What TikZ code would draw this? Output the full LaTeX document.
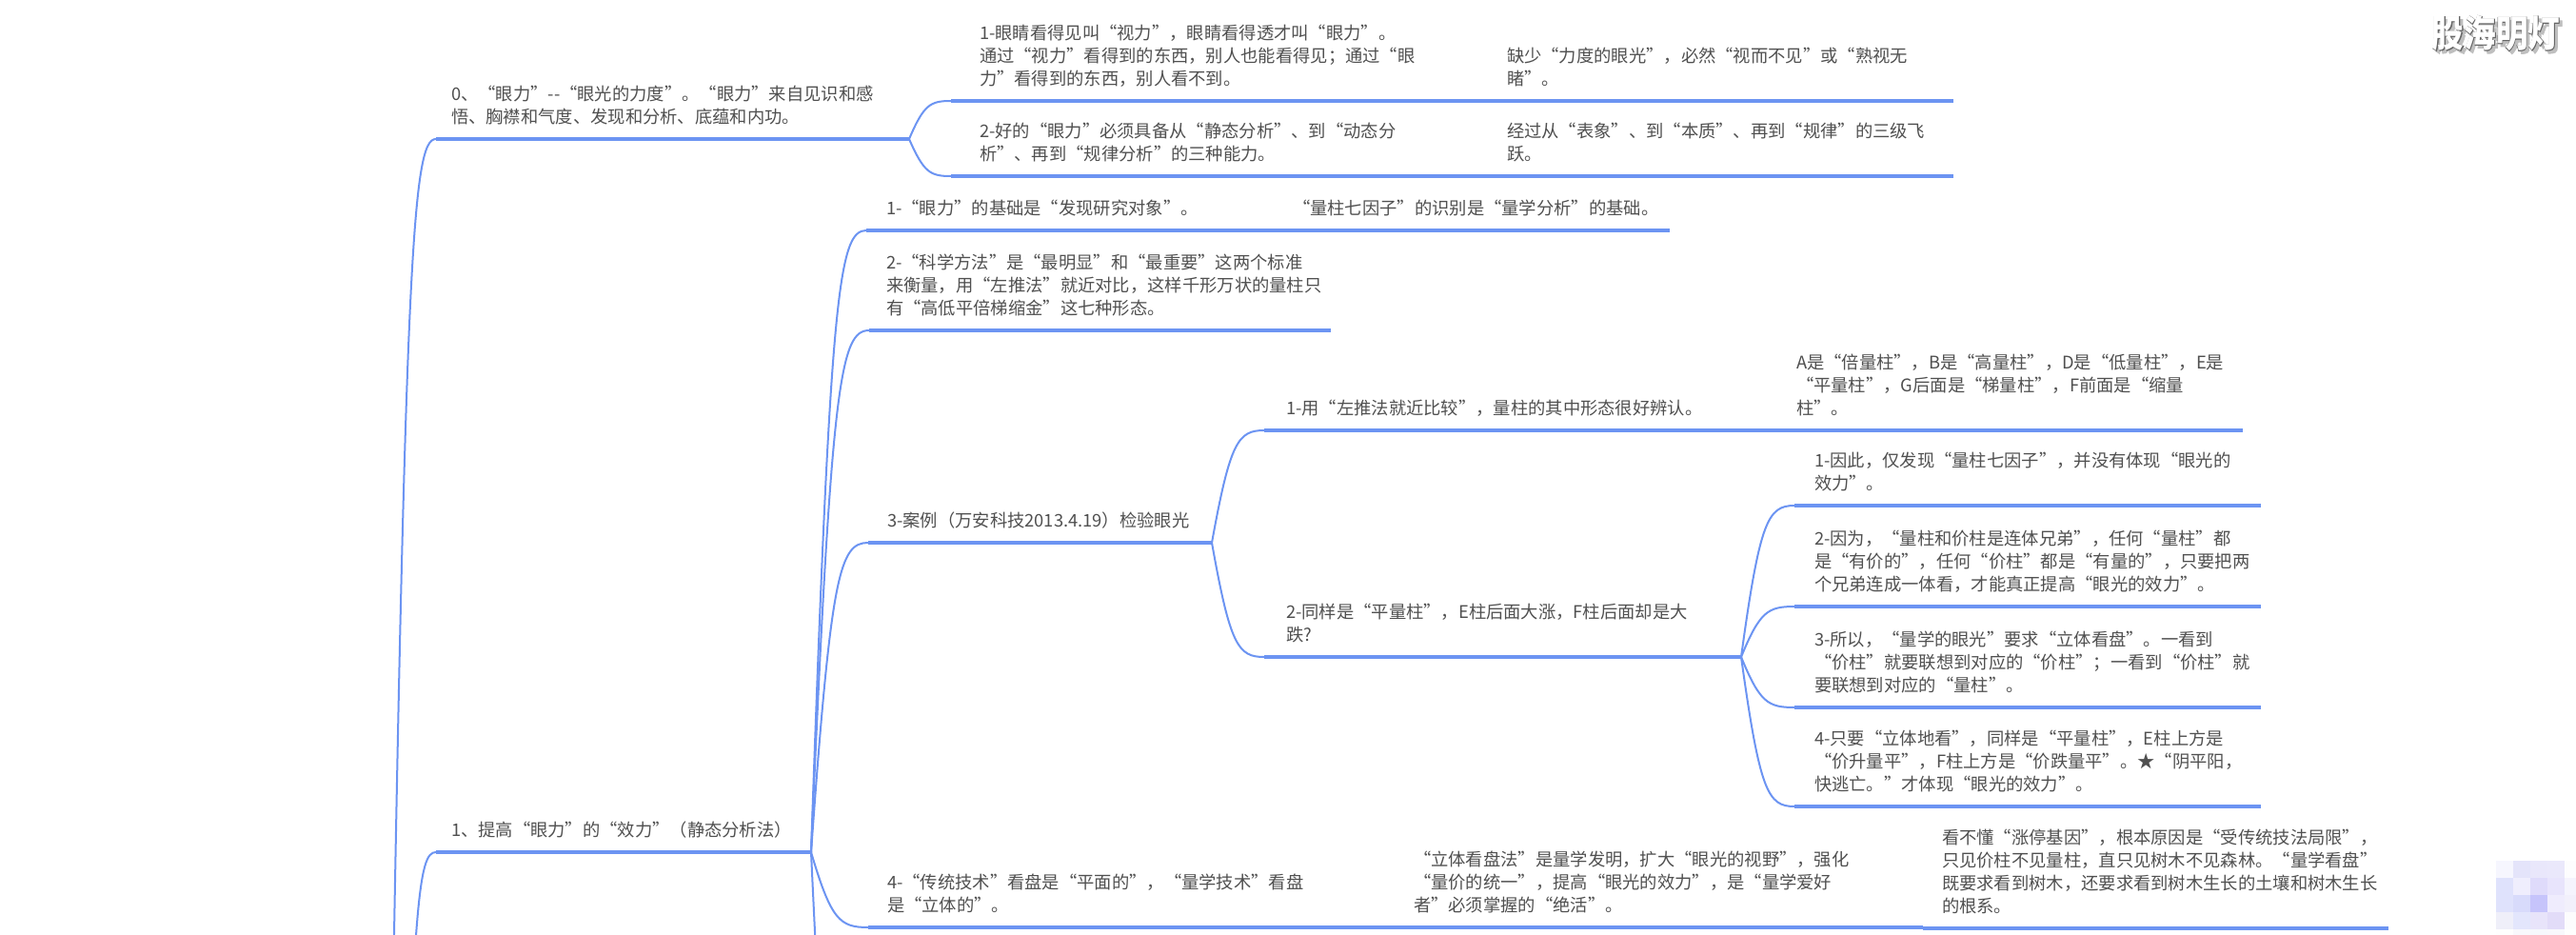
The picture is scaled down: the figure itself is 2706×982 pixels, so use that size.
\documentclass[tikz,border=0pt]{standalone}
\usepackage{fontspec}
\setmainfont{Noto Sans CJK SC}
\newfontfamily\markfont[BoldFeatures={FakeBold=2.5}]{Noto Sans CJK SC}
\usetikzlibrary{matrix,calc,positioning}
\definecolor{mapblue}{HTML}{6C94F2}
\definecolor{maptext}{HTML}{505050}

\begin{document}
\begin{tikzpicture}[x=1pt,y=-1pt,
  rule/.style={draw=mapblue, line width=3.5pt},
  limb/.style={draw=mapblue, line width=2pt, to path={let \p1=(\tikztostart), \p2=(\tikztotarget) in
    .. controls ({\x1+.35*(\x2-\x1)},{\y1+.9*(\y2-\y1)}) and ({\x1+.5*(\x2-\x1)},\y2) .. (\tikztotarget)}},
  topic/.style={anchor=south west, text width=#1, align=left, text=maptext, outer sep=0pt, inner ysep=9.3pt,
    font=\fontsize{18.3}{24}\selectfont, execute at end node=\strut,
    append after command={(\tikzlastnode.south west) edge[rule] (\tikzlastnode.south east)}},
  pixels/.style={matrix of nodes, anchor=north west, nodes in empty cells, column sep=0pt, row sep=0pt, inner sep=0pt,
    nodes={minimum size=18pt, inner sep=0pt, outer sep=0pt}},
  px/.code={\definecolor{pxcolor}{HTML}{#1}\pgfkeysalso{fill=pxcolor}},
]
\path[use as bounding box, fill=white] (0,0) rectangle (2706,982);
\clip (0,0) rectangle (2706,982);

% left side
\coordinate (trunkA) at (407,1400);
\coordinate (trunkB) at (421,1400);
\coordinate (oneMore) at (950,1700);

\node[topic=465, inner xsep=16pt] (zero) at (458,146) {0、“眼力”-{}-“眼光的力度”。“眼力”来自见识和感\\悟、胸襟和气度、发现和分析、底蕴和内功。};
\node[topic=362, inner xsep=16pt] (one) at (458,895) {1、提高“眼力”的“效力”（静态分析法）};

% first block
\node[topic=504, inner xsep=30pt] (zeroA) at (999,106) {1-眼睛看得见叫“视力”，眼睛看得透才叫“眼力”。\\通过“视力”看得到的东西，别人也能看得见；通过“眼\\力”看得到的东西，别人看不到。};
\node[topic=449, inner xsep=20pt] (zeroAnote) at (zeroA.south east) {缺少“力度的眼光”，必然“视而不见”或“熟视无\\睹”。};
\node[topic=504, inner xsep=30pt] (zeroB) at (999,185) {2-好的“眼力”必须具备从“静态分析”、到“动态分\\析”、再到“规律分析”的三种能力。};
\node[topic=449, inner xsep=20pt] (zeroBnote) at (zeroB.south east) {经过从“表象”、到“本质”、再到“规律”的三级飞\\跃。};

% second block
\node[topic=386, inner xsep=21pt] (oneA) at (910,242) {1-“眼力”的基础是“发现研究对象”。};
\node[topic=376, inner xsep=20pt] (oneAnote) at (oneA.south east) {“量柱七因子”的识别是“量学分析”的基础。};
\node[topic=449, inner xsep=18pt] (oneB) at (913,347) {2-“科学方法”是“最明显”和“最重要”这两个标准\\来衡量，用“左推法”就近对比，这样千形万状的量柱只\\有“高低平倍梯缩金”这七种形态。};
\node[topic=321, inner xsep=20pt] (oneC) at (912,570) {3-案例（万安科技2013.4.19）检验眼光};
\node[topic=513, inner xsep=20pt] (oneD) at (912,974) {4-“传统技术”看盘是“平面的”，“量学技术”看盘\\是“立体的”。};
\node[topic=515, inner xsep=20pt] (oneDnote) at (oneD.south east) {“立体看盘法”是量学发明，扩大“眼光的视野”，强化\\“量价的统一”，提高“眼光的效力”，是“量学爱好\\者”必须掌握的“绝活”。};
\node[topic=449, inner xsep=20pt] (oneDmore) at (2020,975) {看不懂“涨停基因”，根本原因是“受传统技法局限”，\\只见价柱不见量柱，直只见树木不见森林。“量学看盘”\\既要求看到树木，还要求看到树木生长的土壤和树木生长\\的根系。};

% case study
\node[topic=493, inner xsep=23pt] (caseA) at (1328,452) {1-用“左推法就近比较”，量柱的其中形态很好辨认。};
\node[topic=449, inner xsep=20pt] (caseAnote) at (caseA.south east) {A是“倍量柱”，B是“高量柱”，D是“低量柱”，E是\\“平量柱”，G后面是“梯量柱”，F前面是“缩量\\柱”。};
\node[topic=455, inner xsep=23pt] (caseB) at (1328,690) {2-同样是“平量柱”，E柱后面大涨，F柱后面却是大\\跌?};
\node[topic=448, inner xsep=21pt] (caseBa) at (1885,531) {1-因此，仅发现“量柱七因子”，并没有体现“眼光的\\效力”。};
\node[topic=448, inner xsep=21pt] (caseBb) at (1885,637) {2-因为，“量柱和价柱是连体兄弟”，任何“量柱”都\\是“有价的”，任何“价柱”都是“有量的”，只要把两\\个兄弟连成一体看，才能真正提高“眼光的效力”。};
\node[topic=448, inner xsep=21pt] (caseBc) at (1885,743) {3-所以，“量学的眼光”要求“立体看盘”。一看到\\“价柱”就要联想到对应的“价柱”；一看到“价柱”就\\要联想到对应的“量柱”。};
\node[topic=448, inner xsep=21pt] (caseBd) at (1885,847) {4-只要“立体地看”，同样是“平量柱”，E柱上方是\\“价升量平”，F柱上方是“价跌量平”。★“阴平阳，\\快逃亡。”才体现“眼光的效力”。};

% connectors
\draw[limb] (trunkA) to (zero.south west);
\draw[limb] (trunkB) to (one.south west);
\draw[limb] (zero.south east) to (zeroA.south west);
\draw[limb] (zero.south east) to (zeroB.south west);
\draw[limb] (one.south east) to (oneA.south west);
\draw[limb] (one.south east) to (oneB.south west);
\draw[limb] (one.south east) to (oneC.south west);
\draw[limb] (one.south east) to (oneD.south west);
\draw[limb] (one.south east) to (oneMore);
\draw[limb] (oneC.south east) to (caseA.south west);
\draw[limb] (oneC.south east) to (caseB.south west);
\draw[limb] (caseB.south east) to (caseBa.south west);
\draw[limb] (caseB.south east) to (caseBb.south west);
\draw[limb] (caseB.south east) to (caseBc.south west);
\draw[limb] (caseB.south east) to (caseBd.south west);

% watermark and blur
\node[font=\markfont\bfseries\fontsize{39}{39}\selectfont, text=black!25] (markShadow) at (2625,38) {\scalebox{.86}[1]{股海明灯}};
\node[font=\markfont\bfseries\fontsize{39}{39}\selectfont, text=black!60] (markEdge) at (2622,35) {\scalebox{.86}[1]{股海明灯}};
\node[font=\bfseries\fontsize{39}{39}\selectfont, text=white] (markFace) at (2622,35) {\scalebox{.86}[1]{股海明灯}};

\matrix[pixels] (blur) at (2622,904) {
  |[px=F6F6FE]| & |[px=E4E4FA]| & |[px=E9E7FB]| & |[px=EAE8FB]| & |[px=FDFDFE]| \\
  |[px=DFE2FC]| & |[px=EFEEFD]| & |[px=DFDBFB]| & |[px=E8E4FC]| & |[px=F5F4FD]| \\
  |[px=DFE2FC]| & |[px=D8DBFB]| & |[px=C6C4FB]| & |[px=EFECFD]| & |[px=F2F0FB]| \\
  |[px=EFEFF9]| & |[px=E3E6FC]| & |[px=E8E4FA]| & |[px=E2DCF8]| & |[px=FCFCFD]| \\
  |[px=FEFEFE]| & |[px=F8F8FC]| & |[px=F6F8FC]| & |[px=F8F8FC]| & |[px=FEFEFE]| \\
};

\end{tikzpicture}
\end{document}
